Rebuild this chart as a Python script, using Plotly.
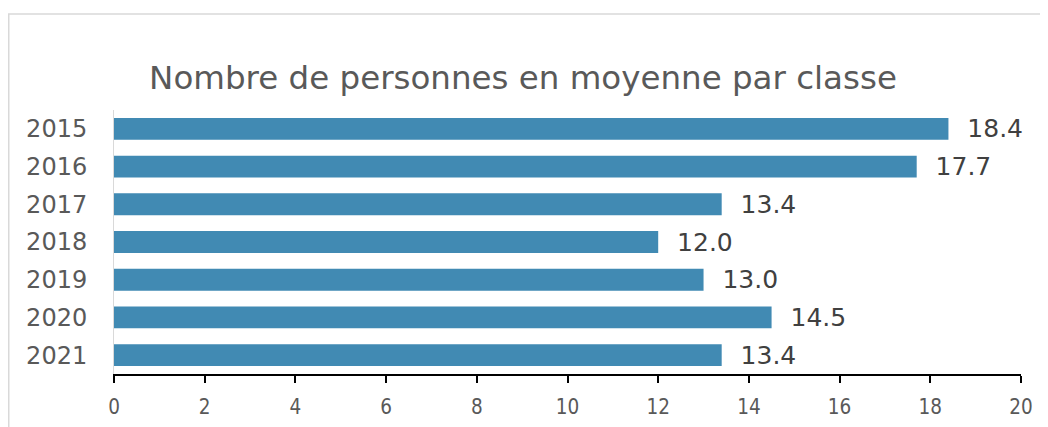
import plotly.graph_objects as go

years = ["2015", "2016", "2017", "2018", "2019", "2020", "2021"]
values = [18.4, 17.7, 13.4, 12.0, 13.0, 14.5, 13.4]
x_ticks = [0, 2, 4, 6, 8, 10, 12, 14, 16, 18, 20]

FONT = "DejaVu Sans, sans-serif"
FONT_C = "DejaVu Sans Condensed, DejaVu Sans, sans-serif"
TXT = "#595959"

# page body has an 8px margin; figure coordinates below compensate for it
W, H = 1040, 419
L, R, T, B = 106, 27, 102, 53
PW, PH = W - L - R, H - T - B

fig = go.Figure(go.Bar(
    y=years, x=values, orientation="h",
    marker=dict(color="#418AB3", line=dict(width=0)),
    width=0.58,
    texttemplate="\u00a0\u00a0%{x:.1f}", textposition="outside",
    constraintext="none",
    textfont=dict(family=FONT, size=25, color="#404040"),
    cliponaxis=False,
))

fig.update_layout(
    width=W, height=H,
    margin=dict(l=L, r=R, t=T, b=B, autoexpand=False),
    paper_bgcolor="white", plot_bgcolor="white",
    showlegend=False,
    title=dict(text="Nombre de personnes en moyenne par classe",
               x=515 / W, xanchor="center",
               y=1 - 70 / H, yanchor="middle",
               font=dict(family=FONT, size=32.5, color=TXT)),
    xaxis=dict(range=[0, 20], tickvals=x_ticks, showgrid=False, zeroline=False,
               showline=True, linecolor="#000000", linewidth=1.5,
               ticks="outside", ticklen=7, tickcolor="#000000", tickwidth=1.5,
               ticklabelstandoff=7,
               tickfont=dict(family=FONT_C, size=20.5, color=TXT)),
    yaxis=dict(autorange="reversed", showgrid=False, zeroline=False,
               showline=True, linecolor="#d9d9d9", linewidth=1,
               ticks="", ticklabelstandoff=21,
               tickfont=dict(family=FONT, size=24, color=TXT)),
    shapes=[dict(type="rect", xref="paper", yref="paper",
                 x0=(0.75 - L) / PW, x1=1.2, y0=-0.5, y1=(PH + T - 6) / PH,
                 line=dict(color="#d9d9d9", width=1.5), fillcolor="rgba(0,0,0,0)",
                 layer="below")],
)

fig.write_html("out.html")
